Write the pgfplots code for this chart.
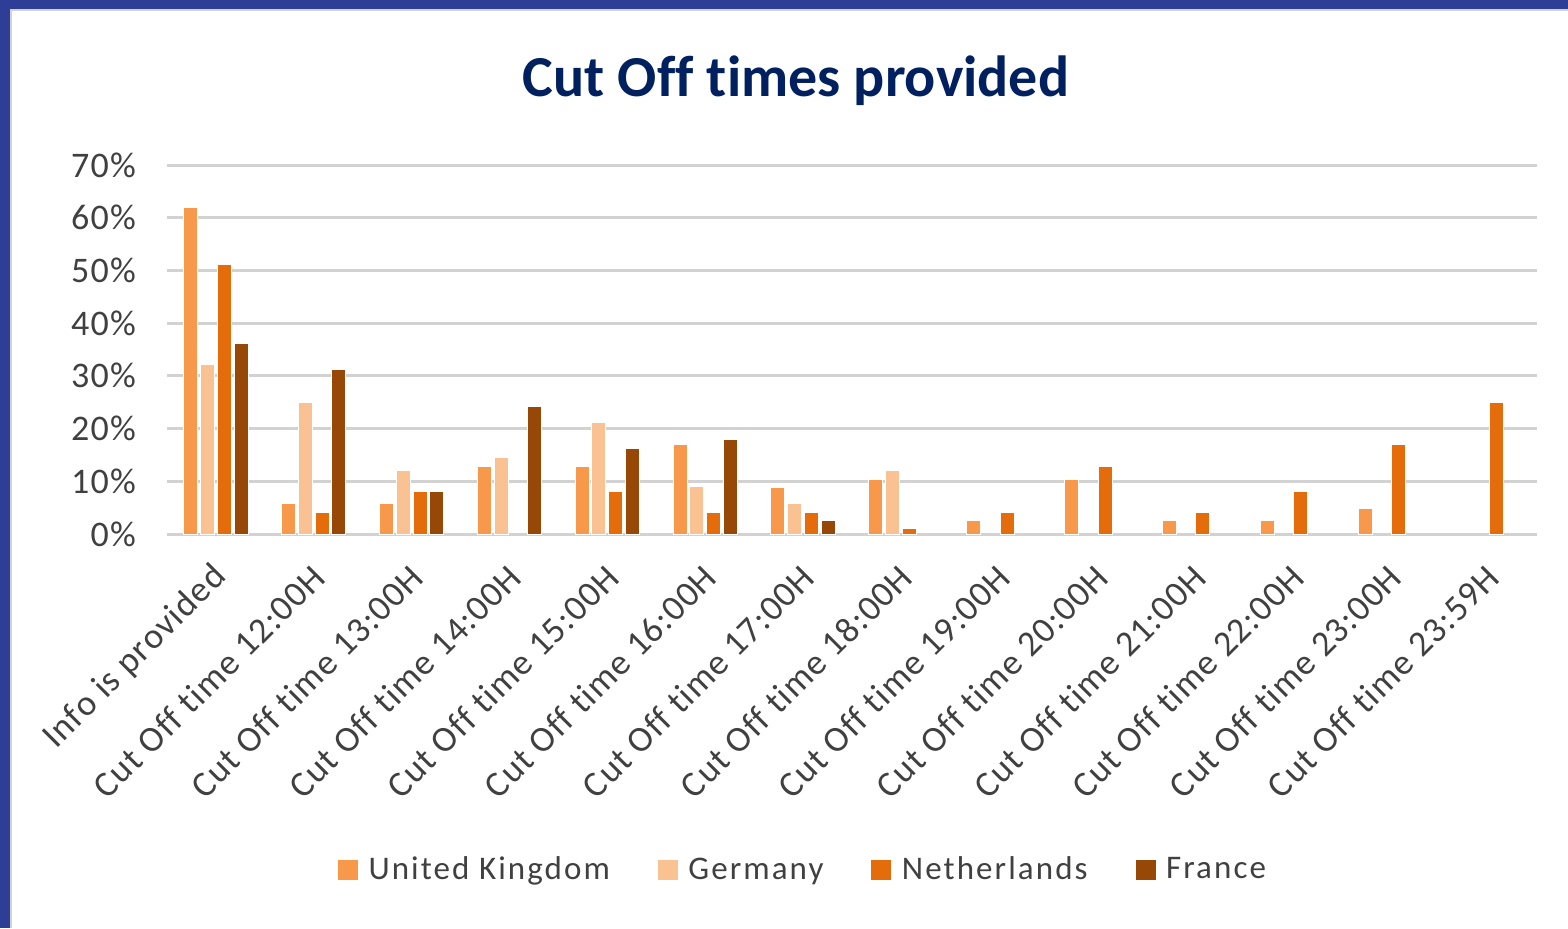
\documentclass[border=0pt]{standalone}
\usepackage{fontspec}
\setmainfont{Carlito}[Ligatures=NoCommon]
\newfontfamily\tickfont{Carlito}[Ligatures=NoCommon, LetterSpace=3.5]
\newfontfamily\legfont{Carlito}[Ligatures=NoCommon, LetterSpace=6.3]
\usepackage{pgfplots}
\pgfplotsset{compat=1.18}
\definecolor{frameblue}{RGB}{46,62,150}
\definecolor{titleblue}{RGB}{0,32,96}
\definecolor{ukc}{RGB}{247,152,74}
\definecolor{dec}{RGB}{250,194,146}
\definecolor{nlc}{RGB}{228,108,10}
\definecolor{frc}{RGB}{152,72,6}
\definecolor{txt}{RGB}{64,64,64}
\definecolor{gridc}{RGB}{210,210,210}
\begin{document}
\begin{tikzpicture}[x=1pt,y=1pt]
\useasboundingbox (0,0) rectangle (784,464);
\fill[white] (0,0) rectangle (784,464);
\fill[frameblue] (0,459.5) rectangle (784,464);
\fill[frameblue] (0,0) rectangle (5,464);
\draw[gridc, line width=1.2pt] (5.6,0) -- (5.6,458.9) -- (784,458.9);
\node[anchor=base, font=\fontsize{29}{34}\selectfont\bfseries, text=titleblue] at (398,415.7) {Cut Off times provided};
\begin{axis}[
  at={(83.5pt,197pt)}, anchor=south west,
  scale only axis, width=685pt, height=184.5pt,
  xmin=-0.5, xmax=13.5, ymin=0, ymax=70,
  ybar=1.4pt, bar width=7pt,
  axis line style={draw=none},
  major tick length=0pt,
  ytick={0,10,...,70},
  yticklabels={0\%,10\%,20\%,30\%,40\%,50\%,60\%,70\%},
  yticklabel style={font=\tickfont\fontsize{18}{22}\selectfont, text=txt, xshift=-12pt},
  ymajorgrids, grid style={gridc, line width=1.5pt},
  xtick={0,...,13},
  xticklabels={Info is provided, Cut Off time 12:00H, Cut Off time 13:00H, Cut Off time 14:00H, Cut Off time 15:00H, Cut Off time 16:00H, Cut Off time 17:00H, Cut Off time 18:00H, Cut Off time 19:00H, Cut Off time 20:00H, Cut Off time 21:00H, Cut Off time 22:00H, Cut Off time 23:00H, Cut Off time 23:59H},
  xticklabel style={font=\tickfont\fontsize{18}{22}\selectfont, text=txt, rotate=45, anchor=east, xshift=-8pt, yshift=-15pt},
  legend style={at={(0.465,-0.91)}, anchor=center, draw=none, fill=none, legend columns=4,
    font=\legfont\fontsize{16.5}{20}\selectfont, text=txt,
    /tikz/every even column/.append style={column sep=22pt}},
  legend image code/.code={\fill[#1,draw=none] (0pt,-5pt) rectangle (10pt,5pt); \path (13pt,0pt);},
  every axis plot/.append style={draw=white, line width=0.5pt},
]
\addplot[fill=ukc] coordinates {(0,62) (1,5.7) (2,5.7) (3,12.8) (4,12.8) (5,17) (6,8.8) (7,10.4) (8,2.6) (9,10.4) (10,2.6) (11,2.6) (12,4.9)};
\addplot[fill=dec] coordinates {(0,32.1) (1,25) (2,12) (3,14.6) (4,21.1) (5,9) (6,5.7) (7,12)};
\addplot[fill=nlc] coordinates {(0,51.1) (1,4.1) (2,8) (4,8) (5,4.1) (6,4.1) (7,1.1) (8,4.1) (9,12.8) (10,4.1) (11,8) (12,17) (13,25)};
\addplot[fill=frc] coordinates {(0,36.2) (1,31.3) (2,8) (3,24.2) (4,16.2) (5,17.9) (6,2.6)};
\legend{United Kingdom, Germany, Netherlands, France}
\end{axis}
\end{tikzpicture}
\end{document}
